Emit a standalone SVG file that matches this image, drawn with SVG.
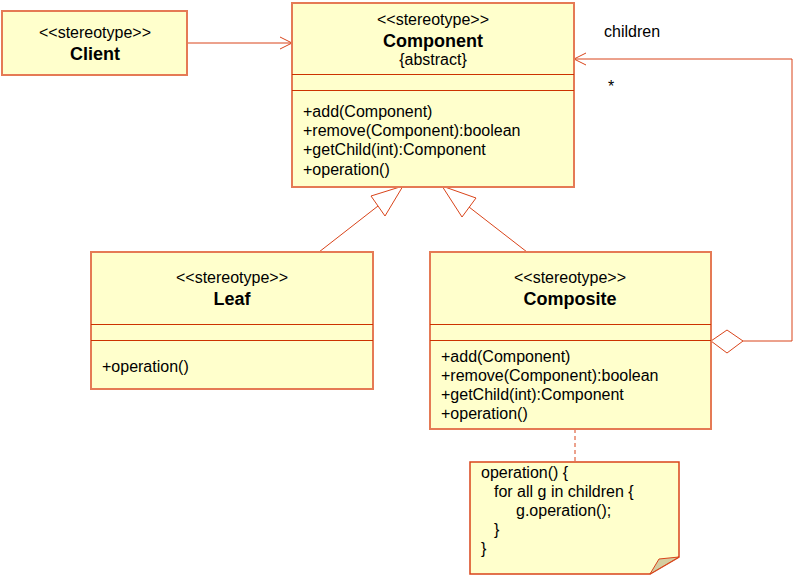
<svg xmlns="http://www.w3.org/2000/svg" width="795" height="576" viewBox="0 0 795 576">
<style>
text{font-family:"Liberation Sans",Arial,sans-serif;font-size:16px;fill:#000}
.b{font-weight:bold;font-size:18px}
.c{text-anchor:middle}
.box{fill:#ffffcc;stroke:#e57a55;stroke-width:2}
.sep{stroke:#cc3300;stroke-width:1}
.ln{fill:none;stroke:#d9441a;stroke-width:1}
</style>
<rect width="795" height="576" fill="#fff"/>
<g id="connectors">
<line class="ln" x1="187" y1="43" x2="292" y2="43"/>
<polyline class="ln" points="280,37 292,43 280,49"/>
<line class="ln" x1="319" y1="252" x2="378" y2="206"/>
<polygon class="ln" points="403,186 371,196 385,216"/>
<line class="ln" x1="527" y1="252" x2="469" y2="207"/>
<polygon class="ln" points="442,186 476,198 462,217"/>
<polyline class="ln" points="743,341 792,341 792,59 574,59"/>
<polyline class="ln" points="586,53 574,59 586,65"/>
<polygon class="ln" points="711,341 727,330 743,341 727,353" fill="#fff"/>
<line class="ln" x1="575" y1="429" x2="575" y2="462" stroke-dasharray="4,3"/>
<text x="604" y="37">children</text>
<text x="608" y="92">*</text>
</g>
<g id="client">
<rect class="box" x="2" y="11" width="185" height="64"/>
<text class="c" x="95" y="38">&lt;&lt;stereotype&gt;&gt;</text>
<text class="b c" x="95" y="60">Client</text>
</g>
<g id="component">
<rect class="box" x="292" y="3" width="282" height="184"/>
<line class="sep" x1="292" y1="74.5" x2="574" y2="74.5"/>
<line class="sep" x1="292" y1="90.5" x2="574" y2="90.5"/>
<text class="c" x="433" y="25">&lt;&lt;stereotype&gt;&gt;</text>
<text class="b c" x="433" y="47">Component</text>
<text class="c" x="433" y="65">{abstract}</text>
<text x="303" y="117">+add(Component)</text>
<text x="303" y="136">+remove(Component):boolean</text>
<text x="303" y="155">+getChild(int):Component</text>
<text x="303" y="175">+operation()</text>
</g>
<g id="leaf">
<rect class="box" x="91" y="252" width="282" height="137"/>
<line class="sep" x1="91" y1="324.5" x2="373" y2="324.5"/>
<line class="sep" x1="91" y1="340.5" x2="373" y2="340.5"/>
<text class="c" x="232" y="283">&lt;&lt;stereotype&gt;&gt;</text>
<text class="b c" x="232" y="305">Leaf</text>
<text x="102" y="372">+operation()</text>
</g>
<g id="composite">
<rect class="box" x="430" y="252" width="281" height="177"/>
<line class="sep" x1="430" y1="324.5" x2="711" y2="324.5"/>
<line class="sep" x1="430" y1="340.5" x2="711" y2="340.5"/>
<text class="c" x="570" y="283">&lt;&lt;stereotype&gt;&gt;</text>
<text class="b c" x="570" y="305">Composite</text>
<text x="441" y="362">+add(Component)</text>
<text x="441" y="381">+remove(Component):boolean</text>
<text x="441" y="400">+getChild(int):Component</text>
<text x="441" y="419">+operation()</text>
</g>
<g id="note">
<polygon points="470,462 679,462 679,557 650,574 470,574" fill="#ffffcc" stroke="#d9441a" stroke-width="1.5"/>
<polygon points="650,574 659,559 679,557" fill="#d4cda0" stroke="#d9441a" stroke-width="1"/>
<text x="481" y="478">operation() {</text>
<text x="494" y="497">for all g in children {</text>
<text x="516" y="516">g.operation();</text>
<text x="494" y="535">}</text>
<text x="481" y="554">}</text>
</g>
</svg>
